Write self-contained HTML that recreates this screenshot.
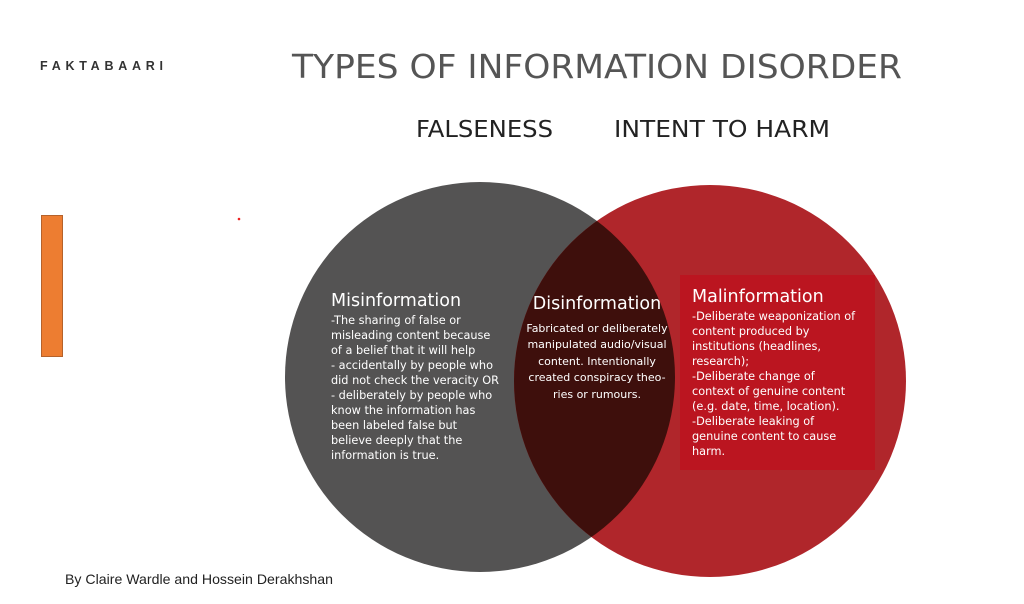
<!DOCTYPE html>
<html><head><meta charset="utf-8"><style>
html,body{margin:0;padding:0;background:#fff;width:1024px;height:604px;overflow:hidden}
svg{display:block}
text{font-family:"DejaVu Sans","Liberation Sans",sans-serif}
text.lib{font-family:"Liberation Sans",sans-serif}
</style></head><body>
<svg width="1024" height="604" viewBox="0 0 1024 604" xmlns="http://www.w3.org/2000/svg">
<rect width="1024" height="604" fill="#fff"/>
<text class="lib" x="40" y="70" font-weight="bold" font-size="12.5" fill="#333" textLength="123" lengthAdjust="spacing">FAKTABAARI</text>
<rect x="41.5" y="215.5" width="21" height="141" fill="#ed7d31" stroke="#b5622b" stroke-width="1"/>
<circle cx="239" cy="219" r="1.3" fill="#e22"/>
<text x="292" y="78" font-size="33" fill="#555" textLength="610" lengthAdjust="spacingAndGlyphs">TYPES OF INFORMATION DISORDER</text>
<text x="416" y="137" font-size="23" fill="#222" textLength="137" lengthAdjust="spacingAndGlyphs">FALSENESS</text>
<text x="614" y="137" font-size="23" fill="#222" textLength="216" lengthAdjust="spacingAndGlyphs">INTENT TO HARM</text>
<defs><clipPath id="c"><circle cx="480" cy="377" r="195"/></clipPath></defs>
<circle cx="480" cy="377" r="195" fill="#545353"/>
<circle cx="710" cy="381" r="196" fill="#b0262b"/>
<circle cx="710" cy="381" r="196" fill="#3e0f0c" clip-path="url(#c)"/>
<rect x="680" y="275" width="195" height="195" fill="#bb1520"/>
<g fill="#fff">
<text x="331" y="306" font-size="17.5">Misinformation</text>
<g font-size="11.3">
<text x="331" y="324">-The sharing of false or</text>
<text x="331" y="339">misleading content because</text>
<text x="331" y="354">of a belief that it will help</text>
<text x="331" y="369">- accidentally by people who</text>
<text x="331" y="384">did not check the veracity OR</text>
<text x="331" y="399">- deliberately by people who</text>
<text x="331" y="414">know the information has</text>
<text x="331" y="429">been labeled false but</text>
<text x="331" y="444">believe deeply that the</text>
<text x="331" y="459">information is true.</text>
</g>
<text x="597" y="309" font-size="17.5" text-anchor="middle">Disinformation</text>
<g font-size="11" text-anchor="middle">
<text x="597" y="332">Fabricated or deliberately</text>
<text x="597" y="348">manipulated audio/visual</text>
<text x="597" y="365">content. Intentionally</text>
<text x="597" y="381">created conspiracy theo-</text>
<text x="597" y="398">ries or rumours.</text>
</g>
<text x="692" y="302" font-size="17.5">Malinformation</text>
<g font-size="11.3">
<text x="692" y="320">-Deliberate weaponization of</text>
<text x="692" y="335">content produced by</text>
<text x="692" y="350">institutions (headlines,</text>
<text x="692" y="365">research);</text>
<text x="692" y="380">-Deliberate change of</text>
<text x="692" y="395">context of genuine content</text>
<text x="692" y="410">(e.g. date, time, location).</text>
<text x="692" y="425">-Deliberate leaking of</text>
<text x="692" y="440">genuine content to cause</text>
<text x="692" y="455">harm.</text>
</g>
</g>
<text class="lib" x="65" y="584" font-size="14" fill="#222" textLength="268" lengthAdjust="spacingAndGlyphs">By Claire Wardle and Hossein Derakhshan</text>
</svg>
</body></html>
